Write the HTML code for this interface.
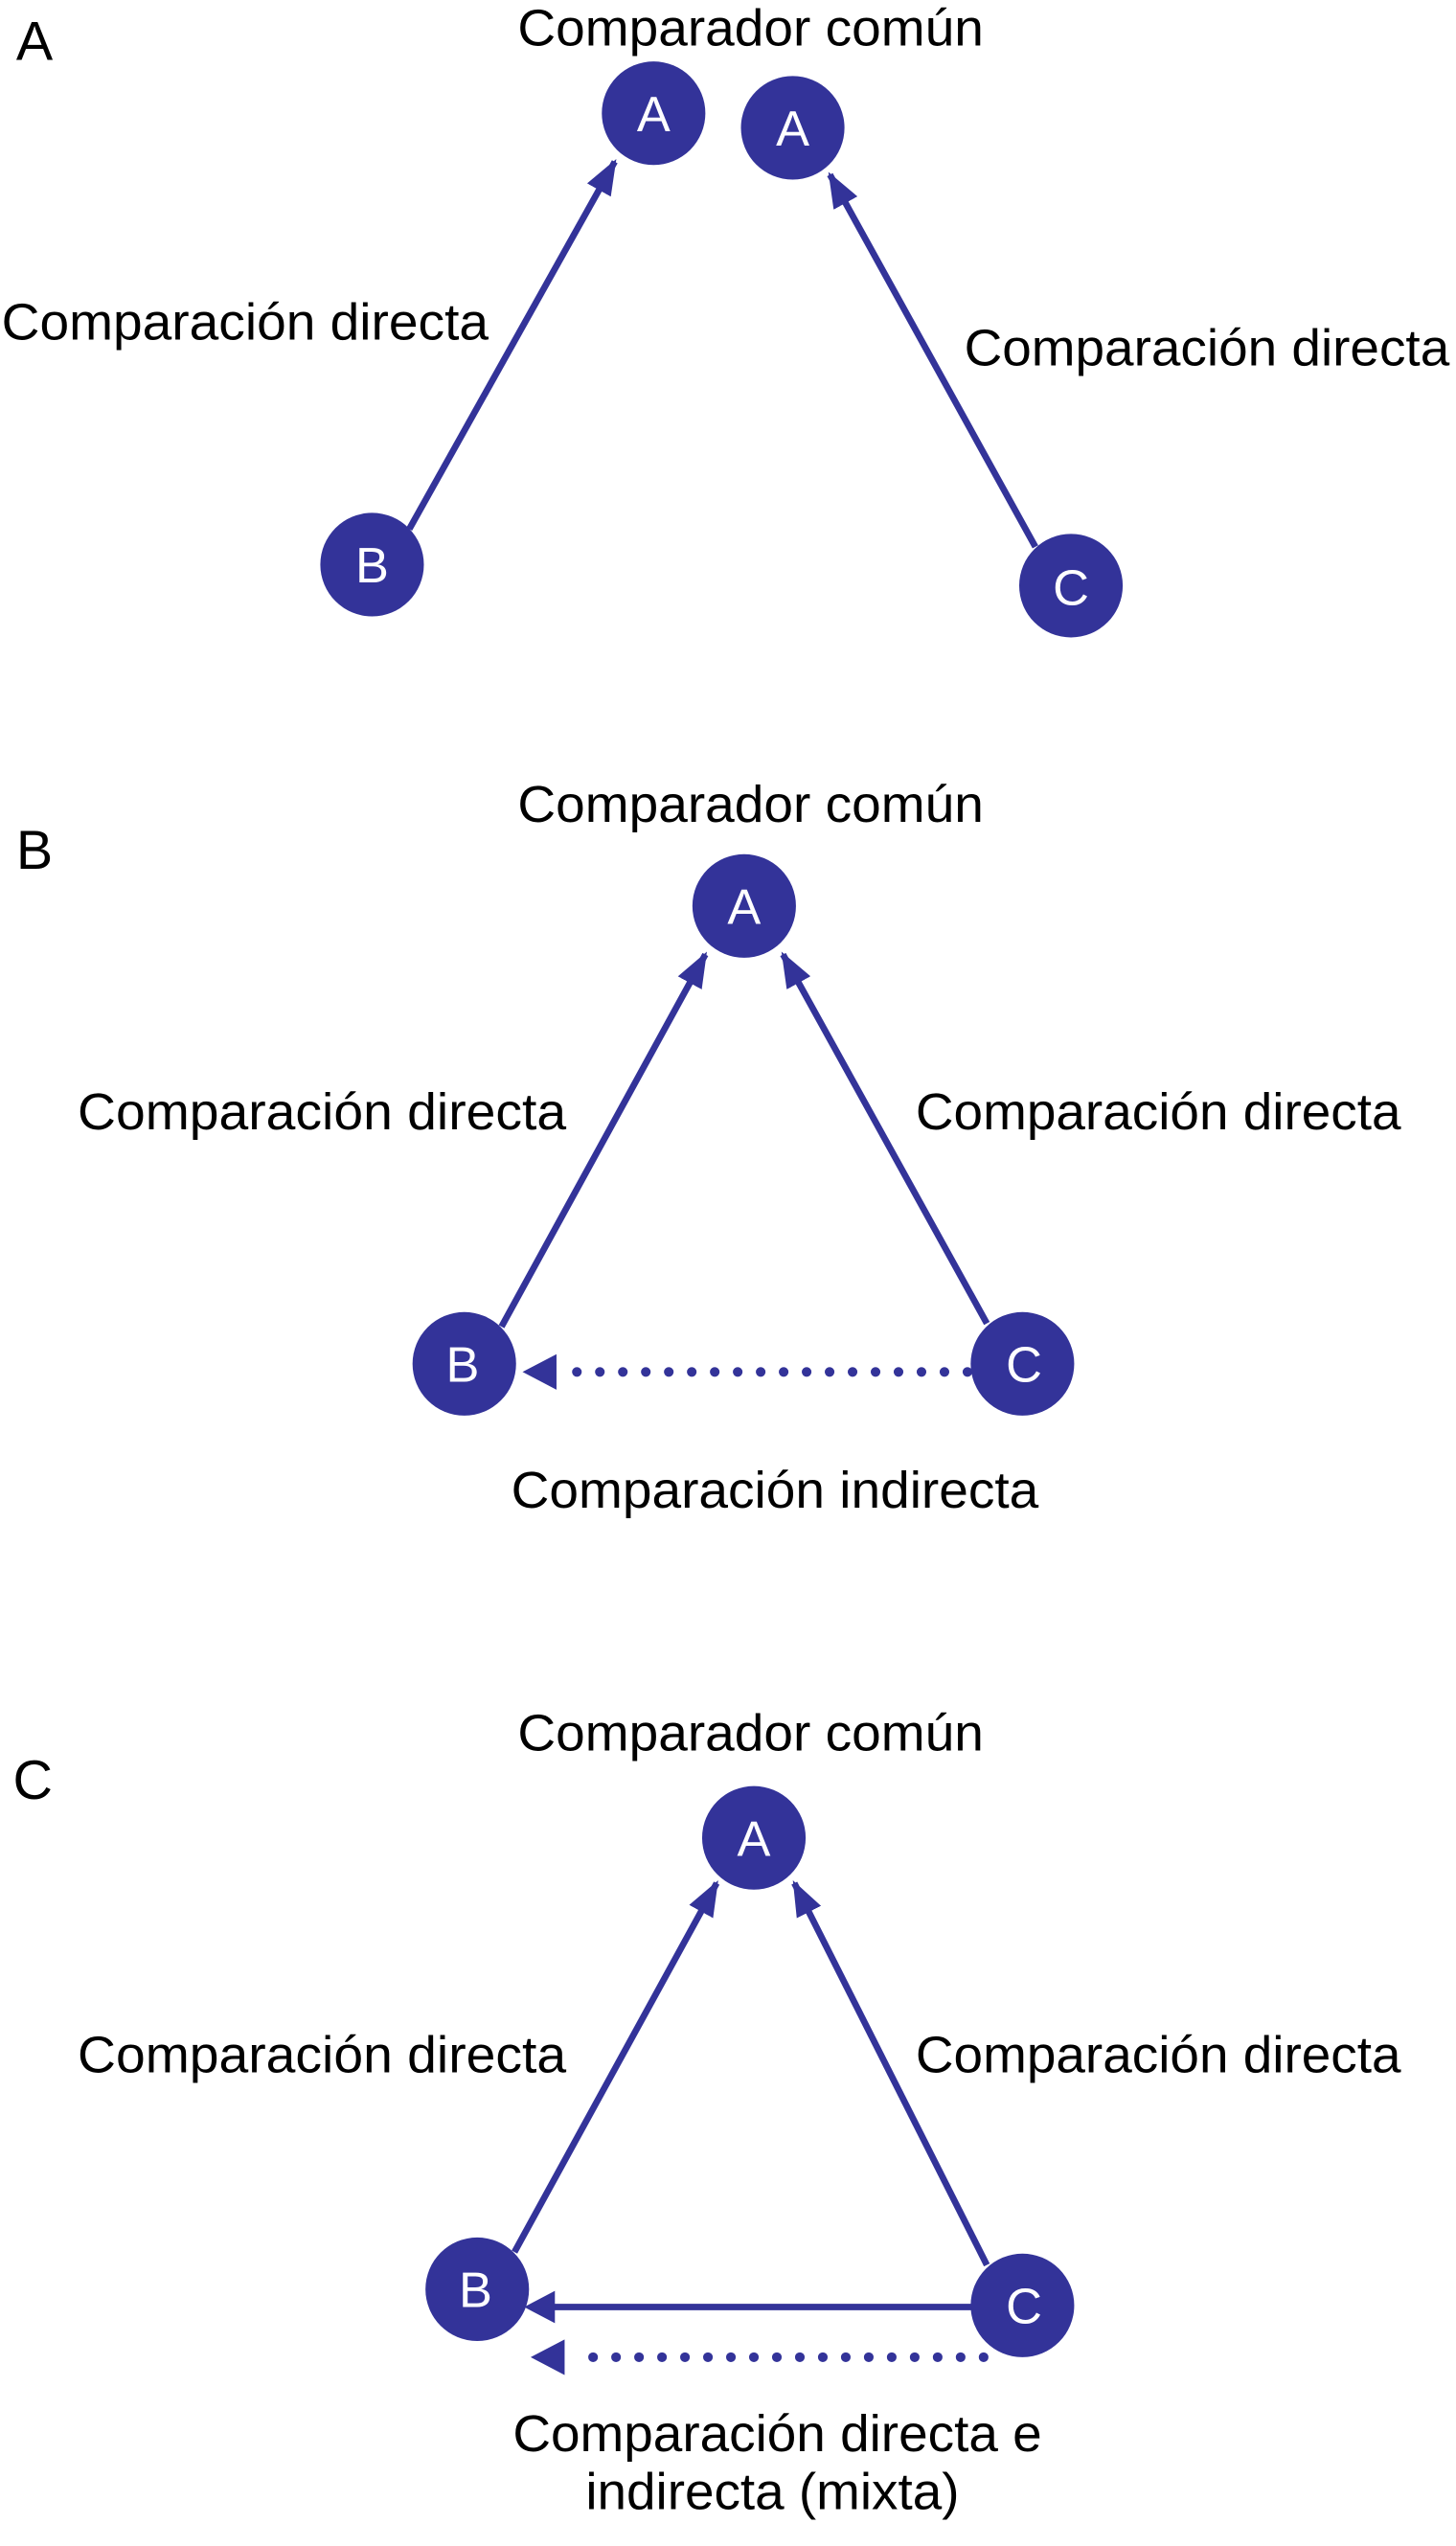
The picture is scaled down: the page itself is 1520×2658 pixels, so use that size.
<!DOCTYPE html>
<html><head><meta charset="utf-8"><style>
html,body{margin:0;padding:0;background:#fff;}
svg{display:block;}
text{font-family:"Liberation Sans",Arial,sans-serif;}
</style></head><body>
<svg width="1520" height="2658" viewBox="0 0 900 1573.7" preserveAspectRatio="none" xmlns="http://www.w3.org/2000/svg">
<defs>
<marker id="ah" markerWidth="7" markerHeight="5" refX="5" refY="2.1" orient="auto" markerUnits="strokeWidth">
<path d="M0,0 L5.5,2.1 L0,4.2 Z" fill="#333399"/>
</marker>
</defs>
<g font-size="32" fill="#000">
<text x="10" y="37" font-size="34">A</text>
<text x="320" y="28" textLength="288" lengthAdjust="spacingAndGlyphs">Comparador común</text>
<text x="1" y="210" textLength="301" lengthAdjust="spacingAndGlyphs">Comparación directa</text>
<text x="596" y="226" textLength="300" lengthAdjust="spacingAndGlyphs">Comparación directa</text>

<text x="10" y="537" font-size="34">B</text>
<text x="320" y="508" textLength="288" lengthAdjust="spacingAndGlyphs">Comparador común</text>
<text x="48" y="698" textLength="302" lengthAdjust="spacingAndGlyphs">Comparación directa</text>
<text x="566" y="698" textLength="300" lengthAdjust="spacingAndGlyphs">Comparación directa</text>
<text x="316" y="932" textLength="326" lengthAdjust="spacingAndGlyphs">Comparación indirecta</text>

<text x="8" y="1112" font-size="34">C</text>
<text x="320" y="1082" textLength="288" lengthAdjust="spacingAndGlyphs">Comparador común</text>
<text x="48" y="1281" textLength="302" lengthAdjust="spacingAndGlyphs">Comparación directa</text>
<text x="566" y="1281" textLength="300" lengthAdjust="spacingAndGlyphs">Comparación directa</text>
<text x="317" y="1515" textLength="327" lengthAdjust="spacingAndGlyphs">Comparación directa e</text>
<text x="362" y="1551" textLength="231" lengthAdjust="spacingAndGlyphs">indirecta (mixta)</text>
</g>

<g stroke="#333399" stroke-width="4" fill="none">
<line x1="253" y1="327" x2="380" y2="100" marker-end="url(#ah)"/>
<line x1="640" y1="338" x2="513" y2="108" marker-end="url(#ah)"/>

<line x1="310" y1="820" x2="436" y2="590" marker-end="url(#ah)"/>
<line x1="610" y1="818" x2="484" y2="590" marker-end="url(#ah)"/>

<line x1="318" y1="1392" x2="443" y2="1164" marker-end="url(#ah)"/>
<line x1="610" y1="1400" x2="491" y2="1164" marker-end="url(#ah)"/>
<line x1="605" y1="1426" x2="340" y2="1426"/>
</g>
<g fill="#333399">
<path d="M324,1426 L343,1416 L343,1436 Z"/>
<path d="M323,848 L344,837 L344,859 Z"/>
<path d="M328,1457 L349,1446 L349,1468 Z"/>
</g>
<g stroke="#333399" stroke-width="6" stroke-linecap="round" stroke-dasharray="0 14.2" fill="none">
<line x1="598" y1="848" x2="350" y2="848"/>
<line x1="608" y1="1457" x2="355" y2="1457"/>
</g>

<g fill="#333399">
<circle cx="404" cy="70" r="32"/>
<circle cx="490" cy="79" r="32"/>
<circle cx="230" cy="349" r="32"/>
<circle cx="662" cy="362" r="32"/>
<circle cx="460" cy="560" r="32"/>
<circle cx="287" cy="843" r="32"/>
<circle cx="632" cy="843" r="32"/>
<circle cx="466" cy="1136" r="32"/>
<circle cx="295" cy="1415" r="32"/>
<circle cx="632" cy="1425" r="32"/>
</g>
<g font-size="31" fill="#fff" text-anchor="middle">
<text x="404" y="81">A</text>
<text x="490" y="90">A</text>
<text x="230" y="360">B</text>
<text x="662" y="374">C</text>
<text x="460" y="571">A</text>
<text x="286" y="854">B</text>
<text x="633" y="854">C</text>
<text x="466" y="1147">A</text>
<text x="294" y="1426">B</text>
<text x="633" y="1436">C</text>
</g>
</svg>
</body></html>
